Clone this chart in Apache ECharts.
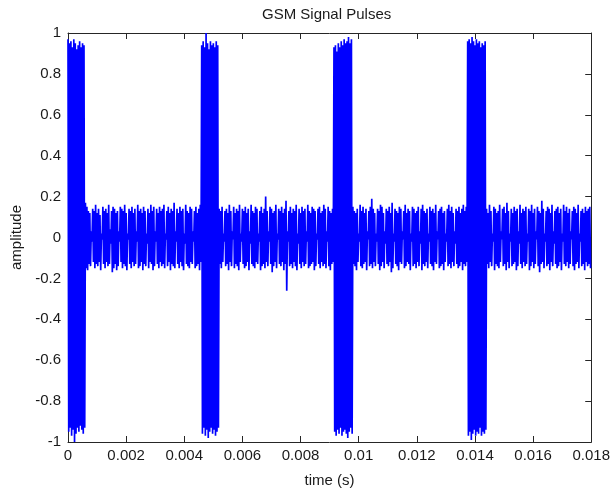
<!DOCTYPE html>
<html>
<head>
<meta charset="utf-8">
<script src="https://cdn.jsdelivr.net/npm/echarts@6/dist/echarts.min.js"></script>
<style>html,body{margin:0;padding:0;background:#fff}#c{width:613px;height:493px}</style>
</head>
<body>
<div id="c"></div>
<script>
// sample spacing of the envelope samples (s): each sample contributes one peak and one trough
const sampleStep = 0.00005;
const xTicks = [0, 0.002, 0.004, 0.006, 0.008, 0.01, 0.012, 0.014, 0.016, 0.018];
const yTicks = [-1, -0.8, -0.6, -0.4, -0.2, 0, 0.2, 0.4, 0.6, 0.8, 1];

// Burst 1 (0 - 0.0006 s)
const pulse1Hi = [0.97,0.95,0.96,0.93,0.97,0.95,0.92,0.94,0.96,0.93,0.95,0.94];
const pulse1Lo = [-0.95,-0.93,-0.97,-0.94,-1.0,-0.96,-0.93,-0.95,-0.92,-0.94,-0.96,-0.93];
// Noise between burst 1 and 2
const noiseAHi = [0.17,0.15,0.13,0.12,0.03,0.14,0.13,0.16,0.12,0.14,
0.11,0.02,0.15,0.13,0.14,0.12,0.16,0.04,0.13,0.15,
0.14,0.12,0.13,0.03,0.15,0.14,0.13,0.16,0.12,0.02,
0.14,0.13,0.15,0.12,0.14,0.03,0.16,0.13,0.14,0.12,
0.15,0.13,0.02,0.14,0.12,0.16,0.13,0.15,0.03,0.14,
0.12,0.15,0.13,0.14,0.16,0.02,0.13,0.15,0.12,0.14,
0.13,0.17,0.03,0.14,0.12,0.15,0.13,0.14,0.02,0.16,
0.13,0.12,0.15,0.14,0.03,0.13,0.15,0.12,0.14,0.16];
const noiseALo = [-0.15,-0.16,-0.13,-0.14,-0.02,-0.12,-0.15,-0.13,-0.14,-0.12,
-0.16,-0.01,-0.13,-0.15,-0.12,-0.14,-0.13,-0.03,-0.17,-0.15,
-0.13,-0.16,-0.14,-0.02,-0.12,-0.15,-0.13,-0.14,-0.16,-0.01,
-0.13,-0.15,-0.12,-0.14,-0.13,-0.02,-0.15,-0.14,-0.12,-0.16,
-0.13,-0.14,-0.03,-0.15,-0.12,-0.13,-0.16,-0.14,-0.02,-0.13,
-0.15,-0.12,-0.14,-0.13,-0.15,-0.01,-0.14,-0.12,-0.16,-0.13,
-0.14,-0.15,-0.02,-0.13,-0.15,-0.12,-0.14,-0.16,-0.03,-0.13,
-0.14,-0.15,-0.12,-0.13,-0.02,-0.15,-0.14,-0.13,-0.16,-0.12];
// Burst 2
const pulse2Hi = [0.94,0.96,0.93,1.0,0.95,0.92,0.96,0.94,0.95,0.93,0.96,0.94];
const pulse2Lo = [-0.96,-0.93,-0.97,-0.94,-0.98,-0.95,-0.93,-0.96,-0.94,-0.97,-0.95,-0.93];
// Noise between burst 2 and 3
const noiseBHi = [0.14,0.13,0.15,0.02,0.13,0.14,0.12,0.16,0.13,0.03,
0.15,0.12,0.14,0.13,0.16,0.02,0.14,0.13,0.15,0.12,
0.14,0.03,0.16,0.13,0.12,0.15,0.14,0.02,0.13,0.15,
0.12,0.14,0.20,0.13,0.03,0.15,0.14,0.12,0.13,0.16,
0.02,0.14,0.13,0.15,0.12,0.14,0.18,0.03,0.13,0.15,
0.12,0.14,0.13,0.16,0.02,0.14,0.12,0.15,0.13,0.14,
0.03,0.16,0.13,0.12,0.15,0.14,0.13,0.02,0.14,0.15,
0.12,0.13,0.16,0.14,0.03,0.15,0.13,0.12,0.14];
const noiseBLo = [-0.13,-0.15,-0.12,-0.02,-0.14,-0.13,-0.16,-0.12,-0.14,-0.01,
-0.15,-0.13,-0.14,-0.16,-0.12,-0.02,-0.13,-0.15,-0.14,-0.12,
-0.16,-0.03,-0.13,-0.14,-0.15,-0.12,-0.13,-0.02,-0.16,-0.14,
-0.13,-0.15,-0.12,-0.14,-0.02,-0.13,-0.17,-0.14,-0.12,-0.15,
-0.01,-0.13,-0.14,-0.12,-0.16,-0.13,-0.26,-0.02,-0.14,-0.13,
-0.15,-0.12,-0.14,-0.16,-0.03,-0.13,-0.15,-0.12,-0.14,-0.13,
-0.02,-0.15,-0.14,-0.13,-0.12,-0.16,-0.14,-0.01,-0.13,-0.15,
-0.12,-0.14,-0.13,-0.15,-0.02,-0.14,-0.16,-0.13,-0.12];
// Burst 3
const pulse3Hi = [0.93,0.94,0.91,0.95,0.93,0.96,0.94,0.97,0.95,0.96,0.98,0.95,0.97];
const pulse3Lo = [-0.95,-0.97,-0.94,-0.96,-0.93,-0.97,-0.95,-0.94,-0.96,-0.98,-0.95,-0.93,-0.96];
// Noise between burst 3 and 4
const noiseCHi = [0.15,0.13,0.12,0.14,0.02,0.16,0.13,0.15,0.12,0.14,
0.03,0.13,0.15,0.19,0.14,0.12,0.02,0.14,0.13,0.16,
0.15,0.12,0.03,0.14,0.13,0.15,0.12,0.17,0.02,0.14,
0.13,0.12,0.15,0.14,0.03,0.13,0.16,0.12,0.14,0.13,
0.02,0.15,0.14,0.12,0.13,0.15,0.03,0.14,0.16,0.13,
0.12,0.14,0.02,0.15,0.13,0.14,0.12,0.16,0.03,0.13,
0.14,0.15,0.12,0.13,0.02,0.14,0.16,0.13,0.15,0.12,
0.03,0.14,0.13,0.15,0.12,0.14,0.16,0.13,0.15];
const noiseCLo = [-0.13,-0.14,-0.16,-0.12,-0.02,-0.14,-0.15,-0.13,-0.12,-0.16,
-0.01,-0.14,-0.13,-0.15,-0.12,-0.14,-0.02,-0.13,-0.16,-0.14,
-0.12,-0.15,-0.03,-0.13,-0.14,-0.12,-0.17,-0.15,-0.02,-0.13,
-0.14,-0.16,-0.12,-0.13,-0.01,-0.15,-0.14,-0.12,-0.13,-0.16,
-0.02,-0.14,-0.13,-0.15,-0.12,-0.14,-0.03,-0.16,-0.13,-0.14,
-0.12,-0.15,-0.02,-0.13,-0.14,-0.16,-0.12,-0.13,-0.01,-0.15,
-0.14,-0.13,-0.16,-0.12,-0.02,-0.14,-0.13,-0.15,-0.12,-0.14,
-0.03,-0.13,-0.15,-0.14,-0.12,-0.16,-0.13,-0.14,-0.12];
// Burst 4
const pulse4Hi = [0.96,0.97,0.95,0.98,0.96,0.94,0.97,0.95,0.96,0.93,0.95,0.94,0.96];
const pulse4Lo = [-0.97,-0.95,-0.99,-0.96,-0.94,-0.97,-0.95,-0.96,-0.93,-0.97,-0.95,-0.96,-0.94];
// Noise after burst 4
const noiseDHi = [0.14,0.12,0.16,0.13,0.02,0.15,0.14,0.12,0.13,0.16,
0.03,0.14,0.15,0.12,0.17,0.13,0.02,0.14,0.12,0.15,
0.13,0.14,0.03,0.16,0.12,0.14,0.13,0.15,0.02,0.14,
0.13,0.16,0.12,0.14,0.03,0.15,0.13,0.12,0.18,0.14,
0.02,0.13,0.15,0.14,0.12,0.16,0.03,0.13,0.14,0.15,
0.12,0.14,0.02,0.16,0.13,0.15,0.12,0.14,0.03,0.13,
0.15,0.14,0.12,0.16,0.02,0.13,0.14,0.12,0.15,0.13,
0.14,0.15];
const noiseDLo = [-0.13,-0.15,-0.12,-0.14,-0.02,-0.16,-0.13,-0.14,-0.15,-0.12,
-0.01,-0.14,-0.13,-0.16,-0.12,-0.15,-0.02,-0.14,-0.13,-0.12,
-0.16,-0.14,-0.03,-0.13,-0.15,-0.12,-0.14,-0.13,-0.02,-0.16,
-0.14,-0.12,-0.15,-0.13,-0.01,-0.14,-0.17,-0.13,-0.12,-0.15,
-0.02,-0.14,-0.13,-0.16,-0.12,-0.14,-0.03,-0.13,-0.15,-0.14,
-0.12,-0.16,-0.02,-0.13,-0.14,-0.12,-0.15,-0.13,-0.01,-0.14,
-0.16,-0.13,-0.12,-0.15,-0.02,-0.14,-0.13,-0.16,-0.12,-0.14,
-0.13,-0.15];

const hiAll = [].concat(pulse1Hi, noiseAHi, pulse2Hi, noiseBHi, pulse3Hi, noiseCHi, pulse4Hi, noiseDHi);
const loAll = [].concat(pulse1Lo, noiseALo, pulse2Lo, noiseBLo, pulse3Lo, noiseCLo, pulse4Lo, noiseDLo);

const seriesData = [];
for (let i = 0; i < hiAll.length; i++) {
  seriesData.push([i * sampleStep, hiAll[i]]);
  seriesData.push([i * sampleStep + sampleStep / 2, loAll[i]]);
}

const FONT = 'Liberation Sans, Arial, sans-serif';
const axisColor = '#262626';
const txtColor = '#1a1a1a';
const fmtX = v => String(parseFloat(v.toFixed(4)));
const fmtY = v => String(parseFloat(v.toFixed(2)));

const baseX = {
  type: 'value', min: xTicks[0], max: xTicks[xTicks.length - 1], interval: xTicks[1] - xTicks[0],
  splitLine: { show: false },
  axisLine: { show: true, onZero: false, lineStyle: { color: axisColor, width: 1 } },
  axisTick: { show: true, inside: true, length: 6, lineStyle: { color: axisColor } }
};
const baseY = {
  type: 'value', min: yTicks[0], max: yTicks[yTicks.length - 1], interval: 0.2,
  splitLine: { show: false },
  axisLine: { show: true, onZero: false, lineStyle: { color: axisColor, width: 1 } },
  axisTick: { show: true, inside: true, length: 6, lineStyle: { color: axisColor } }
};

const chart = echarts.init(document.getElementById('c'), null, { renderer: 'canvas' });
chart.setOption({
  animation: false,
  backgroundColor: '#ffffff',
  textStyle: { fontFamily: FONT },
  title: {
    text: 'GSM Signal Pulses', left: 262, top: 7, padding: 0,
    textStyle: { fontFamily: FONT, fontSize: 15, fontWeight: 'normal', color: txtColor }
  },
  grid: { left: 68, right: 19, top: 33, bottom: 45, containLabel: false },
  xAxis: [
    Object.assign({}, baseX, {
      position: 'bottom',
      name: 'time (s)', nameLocation: 'middle', nameGap: 31,
      nameTextStyle: { fontFamily: FONT, fontSize: 15, color: txtColor },
      axisLabel: { show: true, fontFamily: FONT, fontSize: 15, color: txtColor, margin: 6, formatter: fmtX }
    }),
    Object.assign({}, baseX, { position: 'top', axisLabel: { show: false } })
  ],
  yAxis: [
    Object.assign({}, baseY, {
      position: 'left',
      name: 'amplitude', nameLocation: 'middle', nameGap: 42,
      nameTextStyle: { fontFamily: FONT, fontSize: 15, color: txtColor },
      axisLabel: { show: true, fontFamily: FONT, fontSize: 15, color: txtColor, margin: 7, formatter: fmtY }
    }),
    Object.assign({}, baseY, { position: 'right', axisLabel: { show: false } })
  ],
  series: [{
    type: 'line', xAxisIndex: 0, yAxisIndex: 0,
    data: seriesData, showSymbol: false, symbol: 'none', sampling: null,
    lineStyle: { color: '#0000ff', width: 1.7 }, silent: true
  }]
});
</script>
</body>
</html>
